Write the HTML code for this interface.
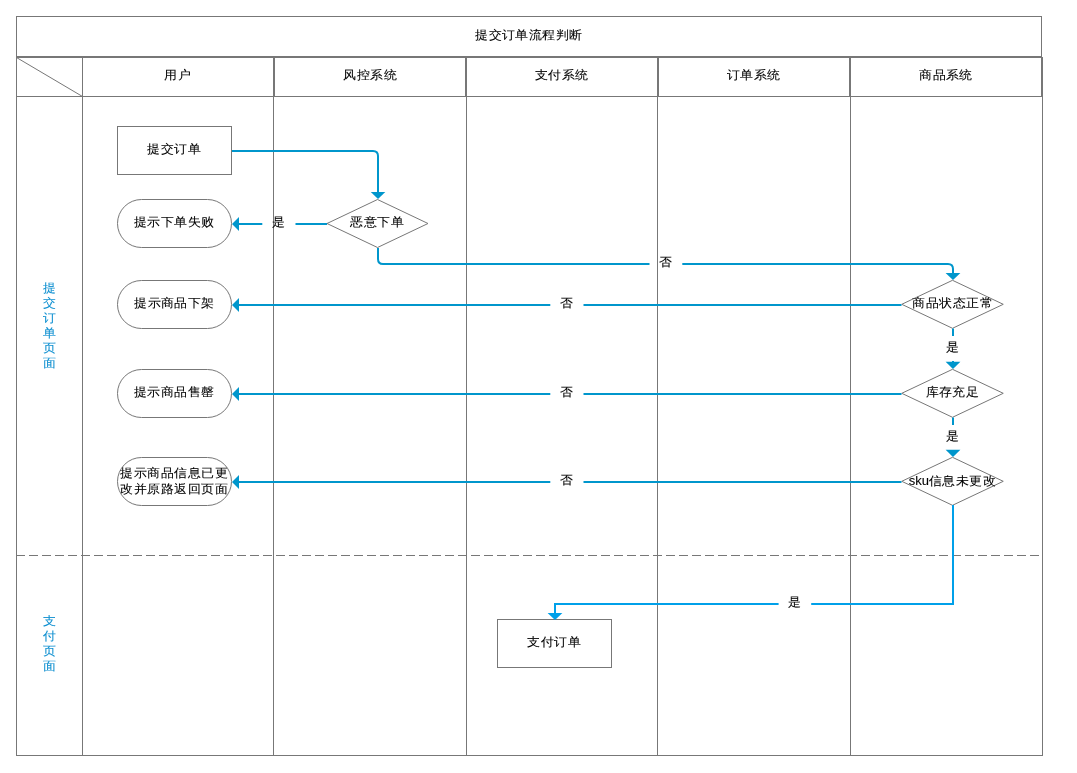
<!DOCTYPE html>
<html><head><meta charset="utf-8"><style>
html,body{margin:0;padding:0;background:#fff;width:1077px;height:773px;overflow:hidden}
svg{display:block}
</style></head><body>
<svg width="1077" height="773" viewBox="0 0 1077 773">
<g fill="none" stroke="#777777" stroke-width="1">
<rect x="16.5" y="16.5" width="1025" height="40"/>
<line x1="16" y1="57.5" x2="1043" y2="57.5"/>
<line x1="16.5" y1="16" x2="16.5" y2="756"/>
<line x1="16" y1="96.5" x2="1043" y2="96.5"/>
<line x1="16" y1="755.5" x2="1043" y2="755.5"/>
<line x1="82.5" y1="57" x2="82.5" y2="756"/>
<line x1="273.5" y1="96" x2="273.5" y2="756"/>
<line x1="466.5" y1="96" x2="466.5" y2="756"/>
<line x1="657.5" y1="96" x2="657.5" y2="756"/>
<line x1="850.5" y1="96" x2="850.5" y2="756"/>
<line x1="1042.5" y1="96" x2="1042.5" y2="756"/>
<line x1="16.5" y1="57.5" x2="82.5" y2="96.5"/>
<line x1="16" y1="555.5" x2="1042" y2="555.5" stroke-dasharray="9 4"/>
</g>
<g fill="none" stroke="#777777" stroke-width="2">
<line x1="274" y1="57" x2="274" y2="96"/>
<line x1="466" y1="57" x2="466" y2="96"/>
<line x1="658" y1="57" x2="658" y2="96"/>
<line x1="850" y1="57" x2="850" y2="96"/>
<line x1="1042" y1="57" x2="1042" y2="96"/>
</g>
<g fill="#fff" stroke="#777777" stroke-width="1">
<rect x="117.5" y="126.5" width="114" height="48"/>
<rect x="117.5" y="199.5" width="114" height="48" rx="24" ry="24"/>
<rect x="117.5" y="280.5" width="114" height="48" rx="24" ry="24"/>
<rect x="117.5" y="369.5" width="114" height="48" rx="24" ry="24"/>
<rect x="117.5" y="457.5" width="114" height="48" rx="24" ry="24"/>
<rect x="497.5" y="619.5" width="114" height="48"/>
<polygon points="377.5,199.5 428.0,223.5 377.5,247.5 327.0,223.5"/>
<polygon points="952.5,280.3 1003.25,304.3 952.5,328.3 901.75,304.3"/>
<polygon points="952.5,369.3 1003.25,393.3 952.5,417.3 901.75,393.3"/>
<polygon points="952.5,457.3 1003.25,481.3 952.5,505.3 901.75,481.3"/>
</g>
<g fill="none" stroke="#0096cc" stroke-width="2">
<path d="M232,151 H373 Q378,151 378,156 V193"/>
<path d="M327,224 H295.5 M262.3,224 H238"/>
<path d="M378,248 V259 Q378,264 383,264 H649.5 M682.3,264 H948 Q953,264 953,269 V274"/>
<path d="M901.5,305 H583.5 M550.3,305 H238"/>
<path d="M901.5,394 H583.5 M550.3,394 H238"/>
<path d="M901.5,482 H583.5 M550.3,482 H238"/>
<path d="M953,328.5 V336 M953,361 V363"/>
<path d="M953,417.5 V425"/>
</g>
<g fill="#0096cc" stroke="none">
<polygon points="370.8,192 385.3,192 378,199"/>
<polygon points="232,224 239,217 239,231"/>
<polygon points="945.6,273 960.4,273 953,280"/>
<polygon points="232,305 239,298 239,312"/>
<polygon points="232,394 239,387 239,401"/>
<polygon points="232,482 239,475 239,489"/>
<polygon points="945.6,361.8 960.4,361.8 953,369"/>
<polygon points="945.6,449.8 960.4,449.8 953,457"/>
</g>
<path d="M953,505 V604 H811.2 M778.6,604 H555 V613.5" fill="none" stroke="#00a0e9" stroke-width="2"/>
<polygon points="547.6,613 562.4,613 555,620" fill="#00a0e9"/>
<g font-family='"Liberation Sans", sans-serif' style="will-change:transform">
<text transform="translate(528.90,38.95) scale(1.0,0.93)" font-size="13" fill="#000000" stroke="#000000" stroke-width="0.1" text-anchor="middle">提交订单流程判断</text>
<text transform="translate(177.50,79.00) scale(1.0,0.93)" font-size="13" fill="#000000" stroke="#000000" stroke-width="0.1" text-anchor="middle">用户</text>
<text transform="translate(370.10,78.80) scale(1.0,0.93)" font-size="13" fill="#000000" stroke="#000000" stroke-width="0.1" text-anchor="middle">风控系统</text>
<text transform="translate(561.65,78.80) scale(1.0,0.93)" font-size="13" fill="#000000" stroke="#000000" stroke-width="0.1" text-anchor="middle">支付系统</text>
<text transform="translate(753.50,78.80) scale(1.0,0.93)" font-size="13" fill="#000000" stroke="#000000" stroke-width="0.1" text-anchor="middle">订单系统</text>
<text transform="translate(946.00,78.80) scale(1.0,0.93)" font-size="13" fill="#000000" stroke="#000000" stroke-width="0.1" text-anchor="middle">商品系统</text>
<text transform="translate(174.35,153.00) scale(1.0,0.93)" font-size="13" fill="#000000" stroke="#000000" stroke-width="0.1" text-anchor="middle">提交订单</text>
<text transform="translate(174.25,226.25) scale(1.0,0.93)" font-size="13" fill="#000000" stroke="#000000" stroke-width="0.1" text-anchor="middle">提示下单失败</text>
<text transform="translate(174.45,306.65) scale(1.0,0.93)" font-size="13" fill="#000000" stroke="#000000" stroke-width="0.1" text-anchor="middle">提示商品下架</text>
<text transform="translate(174.40,395.85) scale(1.0,0.93)" font-size="13" fill="#000000" stroke="#000000" stroke-width="0.1" text-anchor="middle">提示商品售罄</text>
<text transform="translate(174.20,477.10) scale(1.0,0.93)" font-size="13" fill="#000000" stroke="#000000" stroke-width="0.1" text-anchor="middle">提示商品信息已更</text>
<text transform="translate(174.20,493.05) scale(1.0,0.93)" font-size="13" fill="#000000" stroke="#000000" stroke-width="0.1" text-anchor="middle">改并原路返回页面</text>
<text transform="translate(377.30,225.95) scale(1.0,0.93)" font-size="13" fill="#000000" stroke="#000000" stroke-width="0.1" text-anchor="middle">恶意下单</text>
<text transform="translate(952.60,307.15) scale(1.0,0.93)" font-size="13" fill="#000000" stroke="#000000" stroke-width="0.1" text-anchor="middle">商品状态正常</text>
<text transform="translate(952.45,396.45) scale(1.0,0.93)" font-size="13" fill="#000000" stroke="#000000" stroke-width="0.1" text-anchor="middle">库存充足</text>
<text transform="translate(952.45,484.60) scale(1.0,0.93)" font-size="13" fill="#000000" stroke="#000000" stroke-width="0.1" text-anchor="middle">sku信息未更改</text>
<text transform="translate(554.40,646.10) scale(1.0,0.93)" font-size="13" fill="#000000" stroke="#000000" stroke-width="0.1" text-anchor="middle">支付订单</text>
<text transform="translate(278.85,226.05) scale(1.0,0.93)" font-size="13" fill="#000000" stroke="#000000" stroke-width="0.1" text-anchor="middle">是</text>
<text transform="translate(666.00,265.95) scale(1.0,0.93)" font-size="13" fill="#000000" stroke="#000000" stroke-width="0.1" text-anchor="middle">否</text>
<text transform="translate(567.00,307.00) scale(1.0,0.93)" font-size="13" fill="#000000" stroke="#000000" stroke-width="0.1" text-anchor="middle">否</text>
<text transform="translate(567.00,395.95) scale(1.0,0.93)" font-size="13" fill="#000000" stroke="#000000" stroke-width="0.1" text-anchor="middle">否</text>
<text transform="translate(567.00,483.95) scale(1.0,0.93)" font-size="13" fill="#000000" stroke="#000000" stroke-width="0.1" text-anchor="middle">否</text>
<text transform="translate(953.00,351.25) scale(1.0,0.93)" font-size="13" fill="#000000" stroke="#000000" stroke-width="0.1" text-anchor="middle">是</text>
<text transform="translate(952.85,440.15) scale(1.0,0.93)" font-size="13" fill="#000000" stroke="#000000" stroke-width="0.1" text-anchor="middle">是</text>
<text transform="translate(794.95,605.90) scale(1.0,0.93)" font-size="13" fill="#000000" stroke="#000000" stroke-width="0.1" text-anchor="middle">是</text>
<text transform="translate(49.40,291.95) scale(1.0,0.93)" font-size="13" fill="#0e8fd0" stroke="#0e8fd0" stroke-width="0.1" text-anchor="middle">提</text>
<text transform="translate(49.40,306.95) scale(1.0,0.93)" font-size="13" fill="#0e8fd0" stroke="#0e8fd0" stroke-width="0.1" text-anchor="middle">交</text>
<text transform="translate(49.40,321.95) scale(1.0,0.93)" font-size="13" fill="#0e8fd0" stroke="#0e8fd0" stroke-width="0.1" text-anchor="middle">订</text>
<text transform="translate(49.40,336.95) scale(1.0,0.93)" font-size="13" fill="#0e8fd0" stroke="#0e8fd0" stroke-width="0.1" text-anchor="middle">单</text>
<text transform="translate(49.40,351.95) scale(1.0,0.93)" font-size="13" fill="#0e8fd0" stroke="#0e8fd0" stroke-width="0.1" text-anchor="middle">页</text>
<text transform="translate(49.40,366.95) scale(1.0,0.93)" font-size="13" fill="#0e8fd0" stroke="#0e8fd0" stroke-width="0.1" text-anchor="middle">面</text>
<text transform="translate(49.40,625.05) scale(1.0,0.93)" font-size="13" fill="#0e8fd0" stroke="#0e8fd0" stroke-width="0.1" text-anchor="middle">支</text>
<text transform="translate(49.40,640.05) scale(1.0,0.93)" font-size="13" fill="#0e8fd0" stroke="#0e8fd0" stroke-width="0.1" text-anchor="middle">付</text>
<text transform="translate(49.40,655.05) scale(1.0,0.93)" font-size="13" fill="#0e8fd0" stroke="#0e8fd0" stroke-width="0.1" text-anchor="middle">页</text>
<text transform="translate(49.40,670.05) scale(1.0,0.93)" font-size="13" fill="#0e8fd0" stroke="#0e8fd0" stroke-width="0.1" text-anchor="middle">面</text>
</g>
</svg>
</body></html>
